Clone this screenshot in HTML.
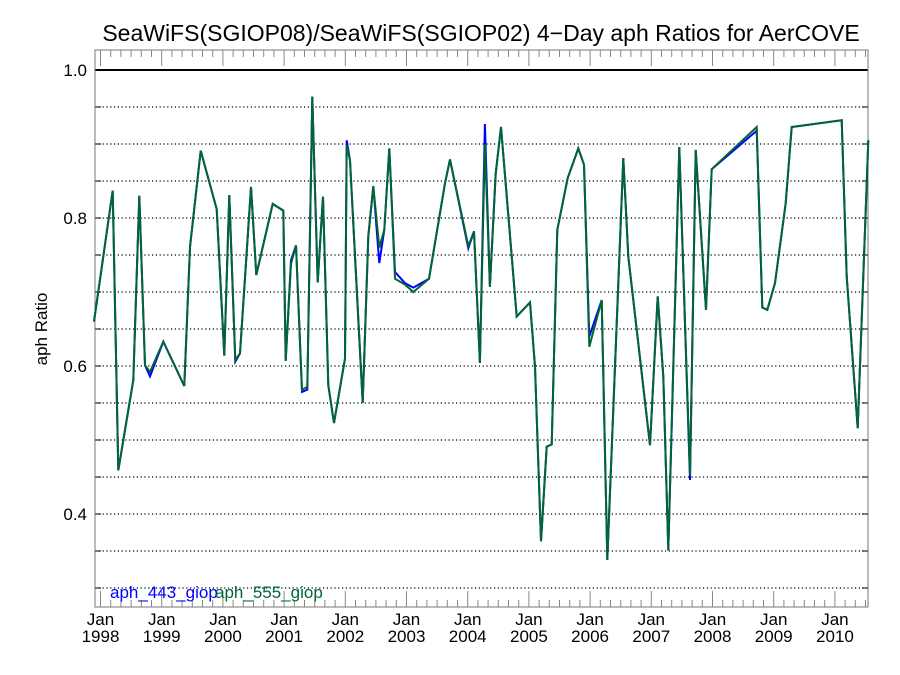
<!DOCTYPE html>
<html><head><meta charset="utf-8"><style>
body{margin:0;background:#fff;width:900px;height:675px;overflow:hidden}
svg{display:block;font-family:"Liberation Sans",sans-serif}
</style></head><body>
<svg id="c" width="900" height="675" xmlns="http://www.w3.org/2000/svg">
<text x="481" y="41" font-size="23" text-anchor="middle">SeaWiFS(SGIOP08)/SeaWiFS(SGIOP02) 4−Day aph Ratios for AerCOVE</text>
<text transform="translate(47,329) rotate(-90)" font-size="17" text-anchor="middle">aph Ratio</text>
<g id="grid"></g>
<g id="axes"></g>
<g id="series"></g>
<text x="110" y="598" font-size="17" fill="#0000ff">aph_443_giop</text>
<text x="215" y="598" font-size="17" fill="#006633">aph_555_giop</text>
</svg>
<script>
const dates=[1997.894,1998.199,1998.291,1998.536,1998.634,1998.727,1998.809,1999.026,1999.369,1999.462,1999.637,1999.899,2000.023,2000.105,2000.203,2000.279,2000.459,2000.546,2000.814,2000.987,2001.026,2001.113,2001.194,2001.292,2001.379,2001.461,2001.549,2001.636,2001.722,2001.815,2001.995,2002.023,2002.077,2002.284,2002.376,2002.458,2002.556,2002.637,2002.719,2002.812,2002.975,2003.111,2003.368,2003.629,2003.711,2004.010,2004.103,2004.199,2004.281,2004.363,2004.458,2004.544,2004.801,2005.018,2005.100,2005.198,2005.291,2005.373,2005.464,2005.634,2005.807,2005.900,2005.987,2006.190,2006.281,2006.542,2006.624,2006.979,2007.105,2007.196,2007.278,2007.458,2007.633,2007.725,2007.894,2007.987,2008.722,2008.814,2008.895,2009.021,2009.196,2009.294,2010.111,2010.193,2010.373,2010.546];
const aph443=[0.660,0.837,0.459,0.581,0.830,0.601,0.586,0.633,0.573,0.761,0.891,0.812,0.614,0.831,0.606,0.617,0.842,0.723,0.819,0.810,0.607,0.743,0.763,0.565,0.568,0.964,0.713,0.829,0.574,0.523,0.610,0.905,0.878,0.550,0.775,0.843,0.739,0.784,0.894,0.727,0.712,0.706,0.718,0.847,0.879,0.759,0.782,0.604,0.927,0.707,0.860,0.923,0.667,0.686,0.599,0.363,0.491,0.494,0.784,0.854,0.894,0.872,0.640,0.689,0.338,0.881,0.748,0.493,0.694,0.586,0.351,0.896,0.446,0.892,0.676,0.866,0.918,0.679,0.676,0.712,0.820,0.923,0.932,0.721,0.516,0.905];
const aph555=[0.660,0.837,0.459,0.581,0.830,0.601,0.592,0.633,0.573,0.761,0.891,0.812,0.614,0.831,0.608,0.617,0.842,0.723,0.819,0.810,0.607,0.738,0.763,0.568,0.572,0.964,0.713,0.829,0.574,0.523,0.610,0.898,0.878,0.550,0.775,0.843,0.760,0.784,0.894,0.718,0.710,0.700,0.718,0.847,0.879,0.762,0.782,0.604,0.900,0.707,0.860,0.923,0.667,0.686,0.599,0.363,0.491,0.494,0.784,0.854,0.894,0.872,0.626,0.689,0.338,0.881,0.748,0.493,0.694,0.586,0.351,0.896,0.452,0.892,0.676,0.866,0.923,0.679,0.676,0.712,0.820,0.923,0.932,0.721,0.516,0.905];
const yTicks=[0.4,0.6,0.8,1.0];
const yLabels=["0.4","0.6","0.8","1.0"];
const years=[1998,1999,2000,2001,2002,2003,2004,2005,2006,2007,2008,2009,2010];

const L=95,R=868,T=50,B=607;
const x=t=>100.5+(t-1998)*61.2;
const y=v=>70+(1-v)*740;
const NS="http://www.w3.org/2000/svg";
function mk(tag,attrs,parent){const e=document.createElementNS(NS,tag);for(const k in attrs)e.setAttribute(k,attrs[k]);parent.appendChild(e);return e;}
const grid=document.getElementById('grid'),axes=document.getElementById('axes'),series=document.getElementById('series');
for(let i=0;i<=14;i++){const v=0.3+i*0.05;const yy=y(v);
 if(Math.abs(v-1)<1e-6){const l=mk('line',{x1:L,x2:R,y1:yy,y2:yy,stroke:'#000','stroke-width':2},grid);
 
 }
 else{const l=mk('line',{x1:L,x2:R,y1:yy,y2:yy,stroke:'#000','stroke-width':1.2,'stroke-dasharray':'1.2 2.6'},grid);
 
 }
 mk('line',{x1:L,x2:L+6,y1:yy,y2:yy,stroke:'#000'},axes);mk('line',{x1:R-6,x2:R,y1:yy,y2:yy,stroke:'#000'},axes);}
const fr=mk('rect',{x:L,y:T,width:R-L,height:B-T,fill:'none',stroke:'#777','stroke-width':1},axes);


yTicks.forEach((v,i)=>{const t=mk('text',{x:L-8,y:y(v)+6,'font-size':17,'text-anchor':'end'},axes);t.textContent=yLabels[i];

});
for(let m=0;m<=12*13;m+=2){const t=1997.9+m/12;const tt=1998+(m-1)/12+1/12-2/12;}
for(let k=-1;k<80;k++){const t=1998+k*2/12;const xx=x(t);if(xx<L||xx>R)continue;const len=(k%6===0)?16:7;
 mk('line',{x1:xx,x2:xx,y1:B,y2:B-len,stroke:'#888'},axes);mk('line',{x1:xx,x2:xx,y1:T,y2:T+len,stroke:'#888'},axes);}
years.forEach(yr=>{const xx=x(yr);const a=mk('text',{x:xx,y:625,'font-size':17,'text-anchor':'middle'},axes);a.textContent='Jan';


const b=mk('text',{x:xx,y:642,'font-size':17,'text-anchor':'middle'},axes);b.textContent=String(yr);

});
function line(vals,color,name){const pts=dates.map((d,i)=>x(d).toFixed(1)+','+y(vals[i]).toFixed(1)).join(' ');
 const p=mk('polyline',{points:pts,fill:'none',stroke:color,'stroke-width':2,'stroke-linejoin':'miter'},series);
 
 }
line(aph443,'#0000ff','series-aph-443');
line(aph555,'#006633','series-aph-555');
</script>
</body></html>
